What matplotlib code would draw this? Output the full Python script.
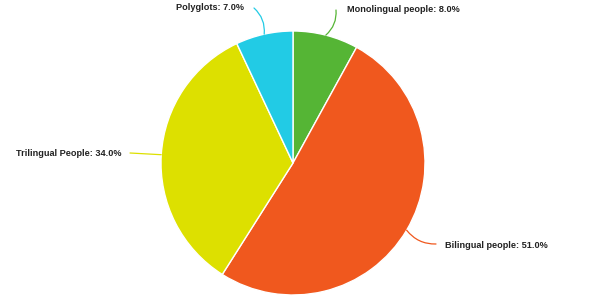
import matplotlib
matplotlib.use("Agg")
import matplotlib.pyplot as plt
import numpy as np

labels = ["Monolingual people", "Bilingual people", "Trilingual People", "Polyglots"]
values = [8.0, 51.0, 34.0, 7.0]
colors = ["#55b535", "#f0581e", "#dde000", "#22cbe5"]

W, H = 614, 297
fig = plt.figure(figsize=(W/100, H/100), dpi=100)
ax = fig.add_axes([0, 0, 1, 1])

cx, cy, r = 293, H - 163, 132
wedges, _ = ax.pie(values, colors=colors, startangle=90, counterclock=False,
                   center=(cx, cy), radius=r, frame=True,
                   wedgeprops=dict(edgecolor="white", linewidth=1))
ax.set_xlim(0, W)
ax.set_ylim(0, H)
ax.axis("off")

# label text anchor positions (pixel coords, y from top) and alignment
label_pos = [(347, 10, "left"), (445, 245, "left"), (121, 154, "right"), (244, 8, "right")]
conn_end = [(336, 10), (436, 244), (130, 153), (254, 8)]
rads = [-0.25, -0.25, 0.0, -0.25]

total = sum(values)
cum = 0
for i, (lab, v) in enumerate(zip(labels, values)):
    mid = 90 - (cum + v / 2) / total * 360
    cum += v
    ang = np.deg2rad(mid)
    px, py = cx + r * np.cos(ang), cy + r * np.sin(ang)
    tx, ty, ha = label_pos[i]
    ex, ey = conn_end[i]
    ax.annotate("", xy=(px, py), xytext=(ex, H - ey),
                arrowprops=dict(arrowstyle="-", color=colors[i], lw=0.9,
                                shrinkA=0, shrinkB=0,
                                connectionstyle=f"arc3,rad={rads[i]}"))
    ax.text(tx, H - ty, f"{lab}: {v:.1f}%", ha=ha, va="center",
            fontsize=6.6, fontweight="bold", color="#222222",
            family=["Liberation Sans", "DejaVu Sans"])

fig.savefig("out.png", dpi=100)
